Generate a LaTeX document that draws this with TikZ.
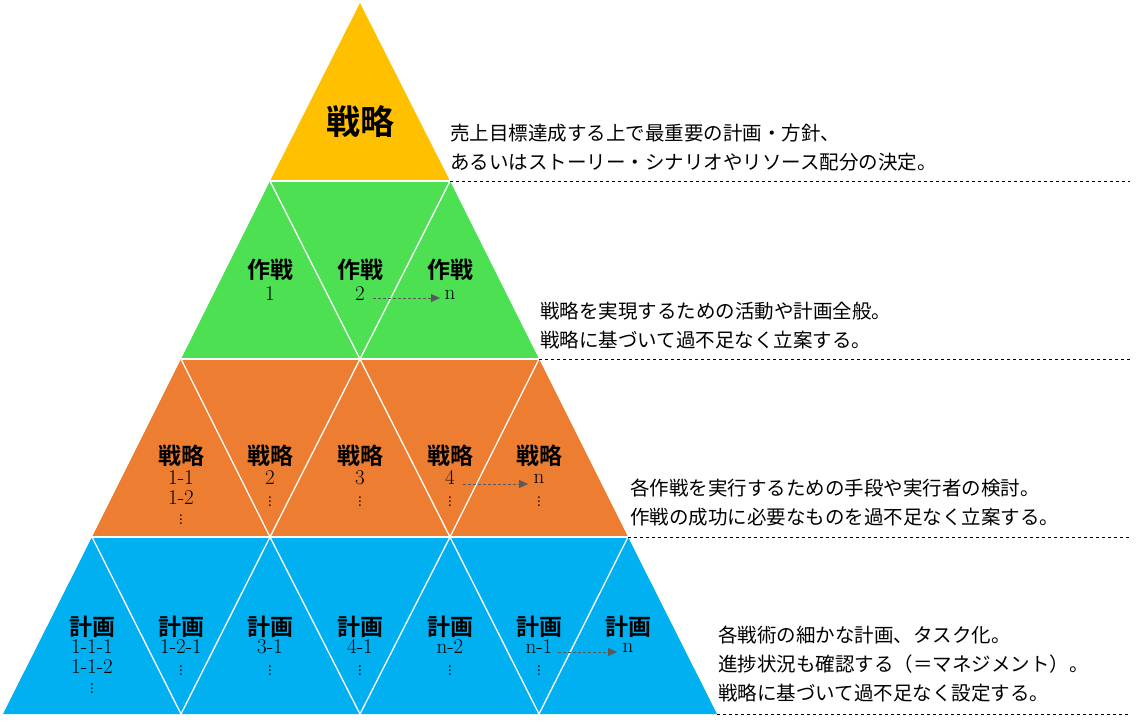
\documentclass[tikz,border=0pt]{standalone}
\usepackage{fontspec}
\newfontfamily\jp{Noto Sans CJK JP}
\newfontfamily\jpb{Noto Sans CJK JP Bold}
\usetikzlibrary{arrows.meta}
\definecolor{cgold}{HTML}{FFC000}
\definecolor{cgreen}{HTML}{4DE052}
\definecolor{corange}{HTML}{ED7D31}
\definecolor{cblue}{HTML}{00B0F0}
\tikzset{
 sep/.style={white,line width=1.3pt},
 lab/.style={font=\jpb\fontsize{23}{26}\selectfont,inner sep=0pt},
 num/.style={font=\fontsize{21}{19.5}\selectfont,inner sep=0pt,align=center},
 desc/.style={font=\jp\fontsize{19.5}{29}\selectfont,anchor=west,align=left,inner sep=0pt},
 dl/.style={dashed,black,line width=0.8pt},
 arr/.style={densely dashed,gray!70!black,line width=0.9pt,-{Triangle[length=9pt,width=8pt]}}
}
\begin{document}
\begin{tikzpicture}[x=1pt,y=-1pt]
\useasboundingbox (0,0) rectangle (1140,723);
\fill[cgold] (360,3) -- (450,181) -- (270,181) -- cycle;
\fill[cgreen] (270,181) -- (450,181) -- (539,359) -- (181,359) -- cycle;
\fill[corange] (181,359) -- (539,359) -- (628,537) -- (92,537) -- cycle;
\fill[cblue] (92,537) -- (628,537) -- (717,714) -- (3,714) -- cycle;
% separators
\draw[sep] (270,181) -- (539,181);
\draw[sep] (181,359) -- (628,359);
\draw[sep] (92,537) -- (717,537);
\draw[sep] (270,181) -- (360,359) -- (450,181);
\draw[sep] (181,359) -- (270,537) -- (360,359) -- (450,537) -- (539,359);
\draw[sep] (92,537) -- (181,714) -- (270,537) -- (360,714) -- (450,537) -- (539,714) -- (628,537);
% dashed guide lines
\coordinate (d1a) at (450,181); \coordinate (d1b) at (1130,181);
\coordinate (d2a) at (539,359); \coordinate (d2b) at (1130,359);
\coordinate (d3a) at (628,537); \coordinate (d3b) at (1130,537);
\coordinate (d4a) at (717,714); \coordinate (d4b) at (1130,714);
\draw[dl] (d1a) -- (d1b); \draw[dl] (d2a) -- (d2b);
\draw[dl] (d3a) -- (d3b); \draw[dl] (d4a) -- (d4b);
% top
\node[lab,font=\jpb\fontsize{34}{38}\selectfont] (s0) at (360,122) {戦略};
% band 2
\foreach \x/\n [count=\i] in {270/1,360/2,450/n}{
 \node[lab] (a\i) at (\x,270) {作戦};
 \node[num,anchor=north] (an\i) at (\x,286) {\strut\n};
}
\coordinate (a2s) at (373,298); \coordinate (a2e) at (440,298);
\draw[arr] (a2s) -- (a2e);
% band 3
\foreach \x/\n [count=\i] in {181/{1-1\\1-2\\$\vdots$},270/{2\\$\vdots$},360/{3\\$\vdots$},450/{4\\$\vdots$},539/{n\\$\vdots$}}{
 \node[lab] (b\i) at (\x,456) {戦略};
 \node[num,anchor=north] (bn\i) at (\x,470) {\strut\n};
}
\coordinate (b4a) at (463,484); \coordinate (b4b) at (528,484);
\draw[arr] (b4a) -- (b4b);
% band 4
\foreach \x/\n [count=\i] in {92/{1-1-1\\1-1-2\\$\vdots$},181/{1-2-1\\$\vdots$},270/{3-1\\$\vdots$},360/{4-1\\$\vdots$},450/{n-2\\$\vdots$},539/{n-1\\$\vdots$},628/{n}}{
 \node[lab] (c\i) at (\x,627) {計画};
 \node[num,anchor=north] (cn\i) at (\x,639) {\strut\n};
}
\coordinate (c6a) at (558,652); \coordinate (c6b) at (617,652);
\draw[arr] (c6a) -- (c6b);
% descriptions
\node[desc] (t1) at (450,148) {売上目標達成する上で最重要の計画・方針、\\あるいはストーリー・シナリオやリソース配分の決定。};
\node[desc] (t2) at (540,326) {戦略を実現するための活動や計画全般。\\戦略に基づいて過不足なく立案する。};
\node[desc] (t3) at (630,503) {各作戦を実行するための手段や実行者の検討。\\作戦の成功に必要なものを過不足なく立案する。};
\node[desc] (t4) at (718,664) {各戦術の細かな計画、タスク化。\\進捗状況も確認する（＝マネジメント）。\\戦略に基づいて過不足なく設定する。};
\end{tikzpicture}
\end{document}
